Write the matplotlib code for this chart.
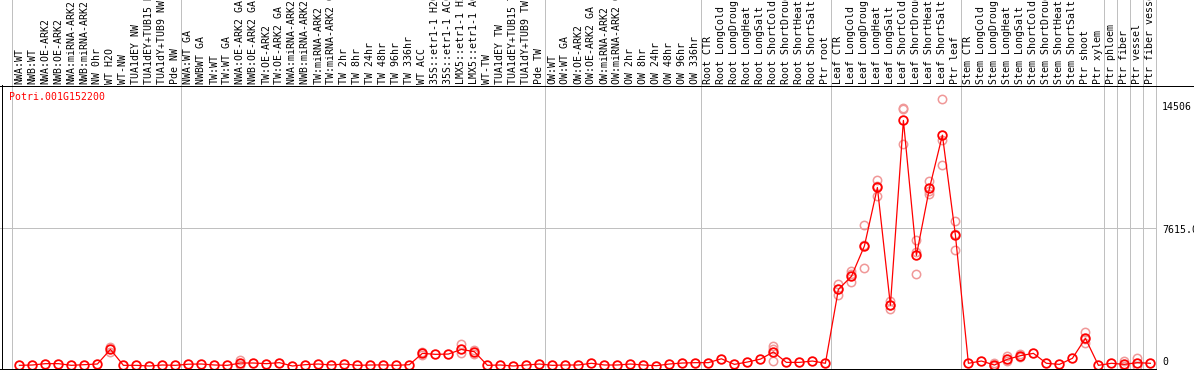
import matplotlib
matplotlib.use("Agg")
import matplotlib.pyplot as plt
from matplotlib.lines import Line2D

gene = "Potri.001G152200"

categories = [
    "NWA:WT", "NWB:WT", "NWA:OE-ARK2", "NWB:OE-ARK2", "NWA:miRNA-ARK2", "NWB:miRNA-ARK2",
    "NW 0hr", "WT H2O", "WT-NW", "TUA1dEY NW", "TUA1dEY+TUB15 NW", "TUA1dY+TUB9 NW", "Pde NW",
    "NWA:WT GA", "NWBWT GA", "TW:WT", "TW:WT GA", "NWA:OE-ARK2 GA", "NWB:OE-ARK2 GA",
    "TW:OE-ARK2", "TW:OE-ARK2 GA", "NWA:miRNA-ARK2 GA", "NWB:miRNA-ARK2 GA", "TW:miRNA-ARK2",
    "TW:miRNA-ARK2 GA", "TW 2hr", "TW 8hr", "TW 24hr", "TW 48hr", "TW 96hr", "TW 336hr",
    "WT ACC", "35S::etr1-1 H2O", "35S::etr1-1 ACC", "LMX5::etr1-1 H2O", "LMX5::etr1-1 ACC",
    "WT-TW", "TUA1dEY TW", "TUA1dEY+TUB15 TW", "TUA1dY+TUB9 TW", "Pde TW",
    "OW:WT", "OW:WT GA", "OW:OE-ARK2", "OW:OE-ARK2 GA", "OW:miRNA-ARK2", "OW:miRNA-ARK2 GA",
    "OW 2hr", "OW 8hr", "OW 24hr", "OW 48hr", "OW 96hr", "OW 336hr",
    "Root CTR", "Root LongCold", "Root LongDrought", "Root LongHeat", "Root LongSalt",
    "Root ShortCold", "Root ShortDrought", "Root ShortHeat", "Root ShortSalt", "Ptr root",
    "Leaf CTR", "Leaf LongCold", "Leaf LongDrought", "Leaf LongHeat", "Leaf LongSalt",
    "Leaf ShortCold", "Leaf ShortDrought", "Leaf ShortHeat", "Leaf ShortSalt", "Ptr leaf",
    "Stem CTR", "Stem LongCold", "Stem LongDrought", "Stem LongHeat", "Stem LongSalt",
    "Stem ShortCold", "Stem ShortDrought", "Stem ShortHeat", "Stem ShortSalt", "Ptr shoot",
    "Ptr xylem", "Ptr phloem", "Ptr fiber", "Ptr vessel", "Ptr fiber vessel",
]

mean_values = [
    37, 55, 130, 130, 37, 74, 110, 920, 37, 37, 0, 55, 37,
    100, 110, 55, 37, 165, 165, 130, 185, 0, 74, 110, 55, 110, 37, 55, 60, 37, 74,
    700, 645, 660, 920, 790, 37, 55, 0, 55, 110,
    37, 55, 55, 150, 55, 55, 110, 55, 18, 110, 165, 185,
    185, 400, 90, 220, 380, 775, 200, 200, 275, 150,
    4240, 4960, 6640, 9880, 3360, 13590, 6120, 9825, 12775, 7245,
    150, 275, 55, 370, 570, 700, 150, 90, 425, 1530,
    37, 150, 90, 185, 150,
]

# replicate measurements (only those visibly apart from the mean)
replicates = [[] for _ in categories]
replicates[7] = [1070, 780]
replicates[17] = [330, 60]
replicates[31] = [780, 600]
replicates[34] = [1200, 740]
replicates[35] = [900, 680]
replicates[58] = [1100, 950, 280]
replicates[63] = [4530, 3930, 4250]
replicates[64] = [5270, 4630, 5100]
replicates[65] = [7780, 5400, 6700]
replicates[66] = [10270, 9400, 9950]
replicates[67] = [3580, 3135, 3370]
replicates[68] = [14300, 12260, 14200]
replicates[69] = [7000, 5090, 6320]
replicates[70] = [10250, 9500, 9700]
replicates[71] = [14800, 11115, 12500]
replicates[72] = [8000, 6400, 7300]
replicates[75] = [150, 0]
replicates[76] = [550, 250]
replicates[77] = [640, 500]
replicates[82] = [1860, 1250, 1500]
replicates[85] = [300, 0]
replicates[86] = [460, 20]

group_sizes = [13, 28, 12, 10, 10, 11, 1, 1, 1, 1]
y_ticks = [14506, 7615.0, 0]
y_tick_labels = ["14506", "7615.0", "0"]

W, H = 1194, 370
X0, DX = 19.4, 13.0          # pixel x of first category, spacing
Y0, K = 366.0, 0.01807       # pixel y of value 0, pixels per unit
MONO = "DejaVu Sans Mono"
FS = 7.1

fig = plt.figure(figsize=(W / 100, H / 100), dpi=100)
fig.patch.set_facecolor("white")
ax = fig.add_axes([0, 0, 1, 1])
ax.set_xlim((0 - X0) / DX, (W - X0) / DX)
ax.set_ylim(-(H - Y0) / K, Y0 / K)
ax.axis("off")


def fx(px):
    return px / W


def fy(py):
    return 1 - py / H


def fline(xs, ys, color, lw=1.0):
    fig.add_artist(Line2D([fx(x) for x in xs], [fy(y) for y in ys],
                          color=color, lw=lw * 0.72, transform=fig.transFigure,
                          antialiased=False))

# group separators (grey, full height)
bounds = [-0.6]
c = 0
for g in group_sizes:
    c += g
    bounds.append(c - 1 + 0.4)
for b in bounds:
    ax.axvline(b, color="#c0c0c0", lw=0.72, zorder=1, antialiased=False)

# grid line at middle tick
ax.plot([ax.get_xlim()[0], bounds[-1]], [y_ticks[1], y_ticks[1]],
        color="#c0c0c0", lw=0.72, zorder=1, antialiased=False)

# frame lines
fline([0, W], [85.5, 85.5], "black", 1.0)
fline([1.5, 1.5], [85, 368], "black", 1.0)
fline([0, X0 + DX * bounds[-1]], [368.5, 368.5], "black", 1.0)

x = list(range(len(categories)))

# replicates
rx, ry = [], []
for i, reps in enumerate(replicates):
    for r in reps:
        rx.append(i)
        ry.append(r)
ax.plot(rx, ry, linestyle="none", marker="o", markersize=6.0, mfc="none",
        mec="#f09898", mew=1.1, zorder=2)

# mean line + markers
ax.plot(x, mean_values, color="red", lw=0.9, zorder=3)
ax.plot(x, mean_values, linestyle="none", marker="o", markersize=6.2, mfc="none",
        mec="red", mew=1.3, zorder=4)

# category labels in top band
for i, lab in enumerate(categories):
    ax.text(i, fy(84.5), lab, rotation=90, ha="center", va="bottom",
            transform=ax.get_xaxis_transform(), family=MONO, fontsize=FS,
            color="black", rotation_mode="default")

# gene title
fig.text(fx(9), fy(97.5), gene, color="red", family=MONO, fontsize=FS,
         ha="left", va="center")

# right-side tick labels
for lab, py in zip(y_tick_labels, [107, 230, 362]):
    fig.text(fx(1162), fy(py), lab, color="black", family=MONO, fontsize=FS,
             ha="left", va="center")

fig.savefig("out.png", dpi=100, facecolor="white")
